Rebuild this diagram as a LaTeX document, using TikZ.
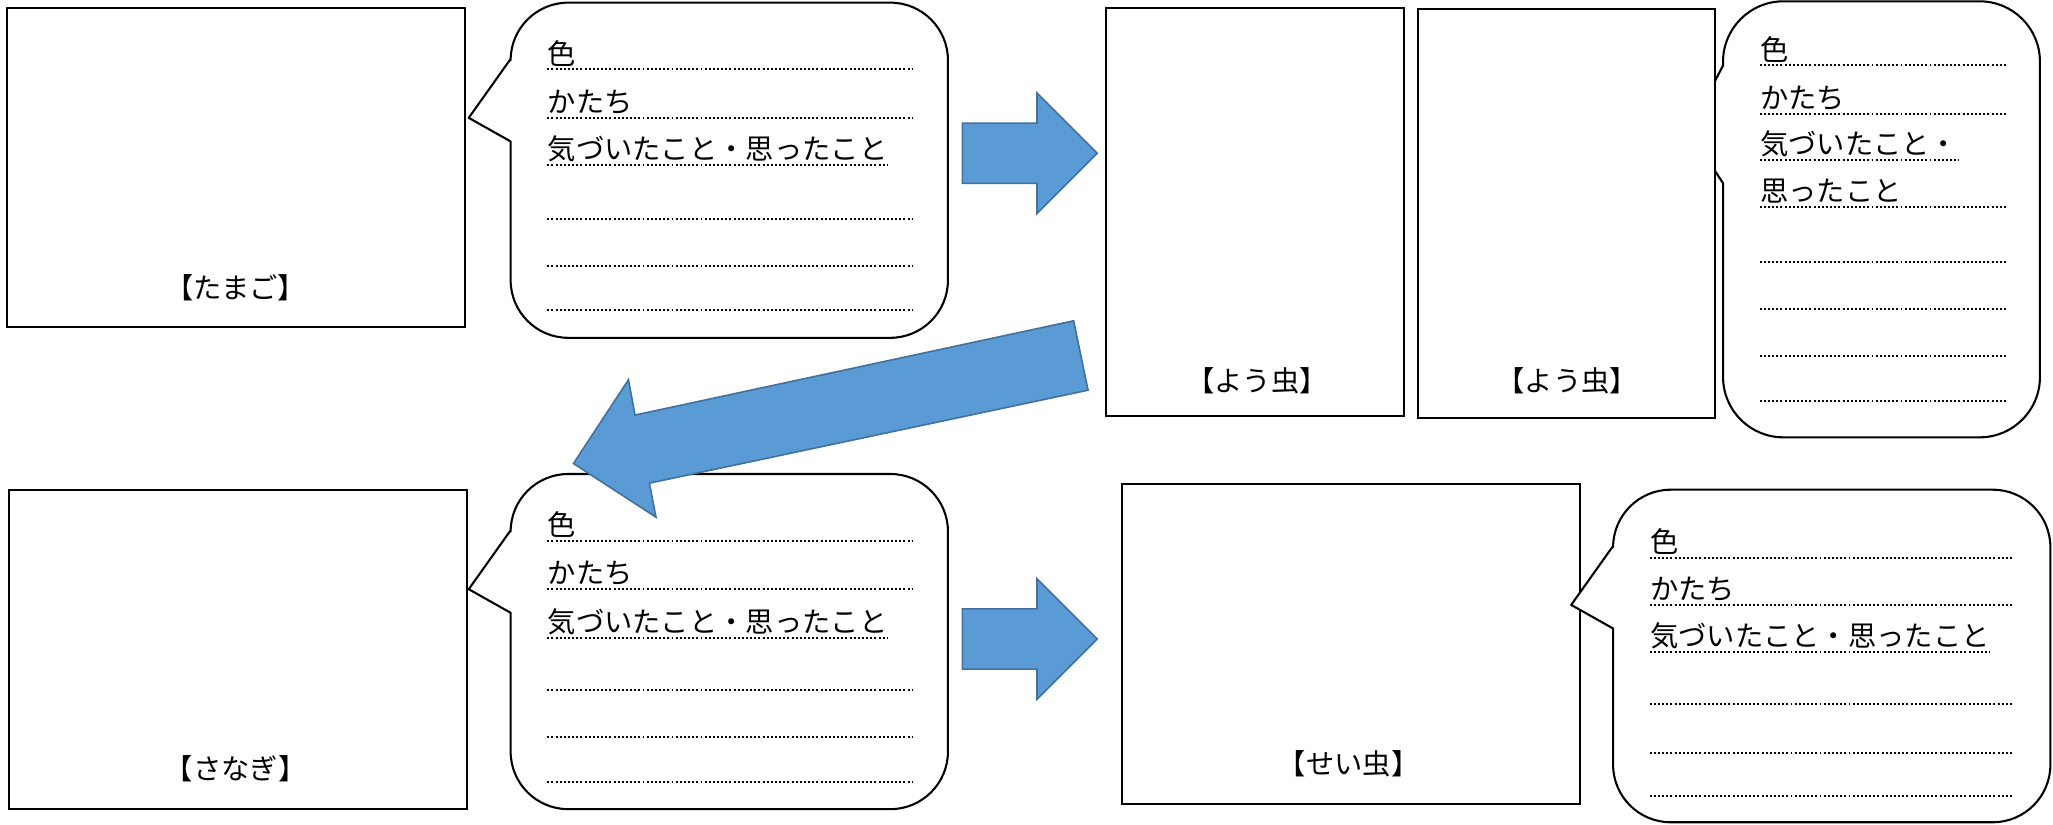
\documentclass[tikz,border=0pt]{standalone}
\usepackage{fontspec}
\newfontfamily\jp{Noto Sans CJK JP}
\definecolor{arrowfill}{HTML}{5B9BD5}
\definecolor{arrowline}{HTML}{41719C}
% x1 y1 x2 y2 r  pointer-top-y  tip-x tip-y  pointer-bottom-y
\newcommand\mybubble[9]{%
  \draw[bubbleline] (#1,#6) -- (#1,{#2+#5})
    .. controls (#1,{#2+0.448*#5}) and ({#1+0.448*#5},#2) .. ({#1+#5},#2)
    -- ({#3-#5},#2)
    .. controls ({#3-0.448*#5},#2) and (#3,{#2+0.448*#5}) .. (#3,{#2+#5})
    -- (#3,{#4-#5})
    .. controls (#3,{#4-0.448*#5}) and ({#3-0.448*#5},#4) .. ({#3-#5},#4)
    -- ({#1+#5},#4)
    .. controls ({#1+0.448*#5},#4) and (#1,{#4-0.448*#5}) .. (#1,{#4-#5})
    -- (#1,#9) -- (#7,#8) -- cycle;}
% name x0 y xend text : text with dotted line to xend
\newcommand\mrow[5]{%
  \node[lbl, anchor=base west] (#1) at (#2,{#3-4}) {#5};
  \draw[dotline] (#2,#3) -- (#4,#3);}
% name x0 y text : text underlined with dots
\newcommand\urow[4]{%
  \node[lbl, anchor=base west] (#1) at (#2,{#3-4}) {#4};
  \coordinate (#1s) at (#2,#3);
  \draw[dotline] (#1s) -- (#1s -| #1.east);}
\newcommand\blankrow[3]{\draw[dotline] (#1,#3) -- (#2,#3);}
\begin{document}
\begin{tikzpicture}[x=0.02cm,y=-0.02cm,
  box/.style={draw=black, line width=0.9pt, fill=white, anchor=north west,
    inner sep=0pt, outer sep=0pt},
  bubbleline/.style={draw=black, line width=0.9pt, fill=white, line join=round},
  lbl/.style={font=\jp\fontsize{12.3pt}{14pt}\selectfont, inner sep=0pt, text=black},
  dotline/.style={line width=0.85pt, dash pattern=on 0.85pt off 0.95pt},
  blockarrow/.style={fill=arrowfill, draw=arrowline, line width=0.7pt, line join=miter}]
\useasboundingbox (0,0) rectangle (1568,630);

% ---- egg
\node[box, minimum width=7cm, minimum height=4.88cm] (egg) at (5,6) {};
\node[lbl] (eggl) at (180,220) {【たまご】};
\mybubble{390}{2}{724}{258}{44}{45}{358}{90}{108}
\mrow{a1}{418}{53}{697}{色}
\mrow{a2}{418}{90}{697}{かたち}
\urow{a3}{418}{126}{気づいたこと・思ったこと}
\blankrow{418}{697}{167}
\blankrow{418}{697}{203}
\blankrow{418}{697}{237}

% ---- larva
\node[box, minimum width=4.54cm, minimum height=6.24cm] (larvaA) at (845,6) {};
\node[lbl] (larvaAl) at (960,291) {【よう虫】};
\mybubble{1316}{1}{1558}{334}{46}{50}{1290}{100}{140}
\node[box, minimum width=4.54cm, minimum height=6.24cm] (larvaB) at (1083,7) {};
\node[lbl] (larvaBl) at (1197,291) {【よう虫】};
\mrow{b1}{1344}{50}{1532}{色}
\mrow{b2}{1344}{87}{1532}{かたち}
\urow{b3}{1344}{122}{気づいたこと・}
\mrow{b4}{1344}{158}{1532}{思ったこと}
\blankrow{1344}{1532}{200}
\blankrow{1344}{1532}{236}
\blankrow{1344}{1532}{272}
\blankrow{1344}{1532}{306}

% ---- pupa
\node[box, minimum width=7cm, minimum height=4.88cm] (pupa) at (7,374) {};
\node[lbl] (pupal) at (180,587) {【さなぎ】};
\mybubble{390}{362}{724}{618}{44}{405}{358}{450}{468}
\mrow{c1}{418}{413}{697}{色}
\mrow{c2}{418}{450}{697}{かたち}
\urow{c3}{418}{487}{気づいたこと・思ったこと}
\blankrow{418}{697}{527}
\blankrow{418}{697}{563}
\blankrow{418}{697}{597}

% ---- adult
\node[box, minimum width=7cm, minimum height=4.88cm] (adult) at (857,370) {};
\node[lbl] (adultl) at (1030,583) {【せい虫】};
\mybubble{1232}{374}{1566}{628}{44}{417}{1200}{462}{480}
\mrow{d1}{1260}{426}{1538}{色}
\mrow{d2}{1260}{462}{1538}{かたち}
\urow{d3}{1260}{498}{気づいたこと・思ったこと}
\blankrow{1260}{1538}{538}
\blankrow{1260}{1538}{575}
\blankrow{1260}{1538}{608}

% ---- block arrows
\draw[blockarrow] (735,94) -- (792,94) -- (792,71) -- (838,117) -- (792,163)
  -- (792,140) -- (735,140) -- cycle;
\draw[blockarrow] (735,465) -- (792,465) -- (792,442) -- (838,488) -- (792,534)
  -- (792,511) -- (735,511) -- cycle;
\draw[blockarrow] (820,245) -- (831,298) -- (496,369) -- (501,395) -- (438,354)
  -- (480,290) -- (485,317) -- cycle;
\end{tikzpicture}
\end{document}
